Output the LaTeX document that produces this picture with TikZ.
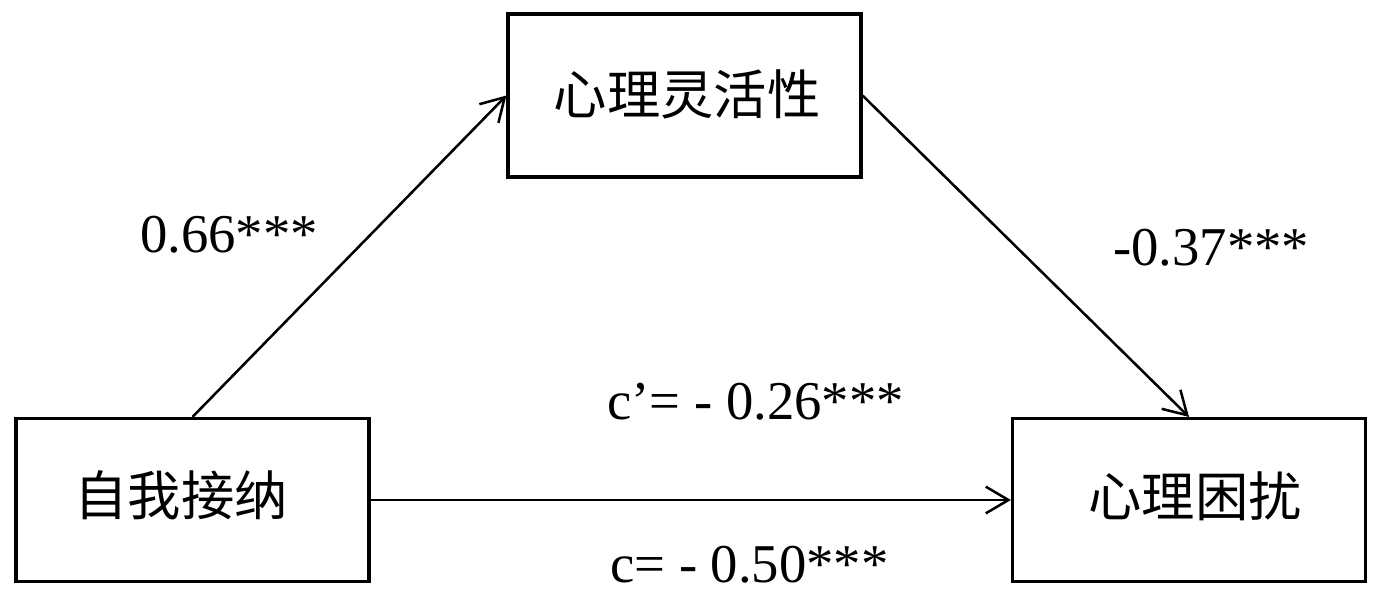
\documentclass[tikz,border=0pt]{standalone}
\usepackage{fontspec}
\setmainfont{Liberation Serif}
\newfontfamily\cjk{Noto Sans CJK SC}
\usetikzlibrary{arrows.meta}
\begin{document}
\begin{tikzpicture}[x=0.75pt,y=-0.75pt,
  box/.style={draw,line width=2.3pt,minimum width=264.75pt,minimum height=122.25pt,inner sep=0pt},
  cjklabel/.style={font=\cjk\fontsize{40}{40}\selectfont,inner sep=0pt},
  coef/.style={font=\fontsize{41}{41}\selectfont,inner sep=0pt,anchor=base west},
  link/.style={line width=1.9pt,-{Straight Barb[length=17pt,width=20pt,line width=1.9pt]}}]
\useasboundingbox (0,0) rectangle (1378,610);
\node[box] (m) at (684.5,95.5) {};
\node[box] (x) at (192.5,500) {};
\node[box] (y) at (1189,500) {};
\node[cjklabel] (mt) at (687,94) {心理灵活性};
\node[cjklabel] (xt) at (181,495) {自我接纳};
\node[cjklabel] (yt) at (1195,496) {心理困扰};
\draw[link] (x.north) -- (m.west);
\draw[link] (m.east) -- (y.north);
\draw[link] (x.east) -- (y.west);
\node[coef] (a) at (140,252) {0.66***};
\node[coef] (b) at (1113,265) {-0.37***};
\node[coef] (cp) at (607,419) {c’= - 0.26***};
\node[coef] (c) at (610,582) {c= - 0.50***};
\end{tikzpicture}
\end{document}
